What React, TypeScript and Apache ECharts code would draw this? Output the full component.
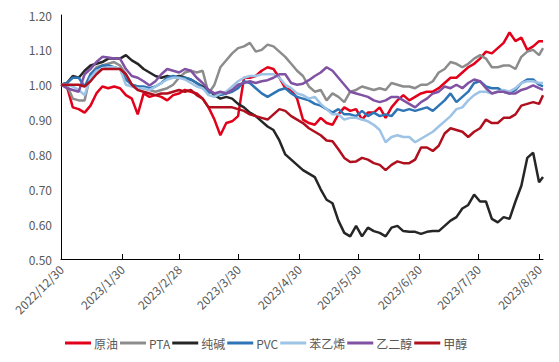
import React, { useEffect, useRef } from "react";
import * as echarts from "echarts";

const seriesNames = ["原油", "PTA", "纯碱", "PVC", "苯乙烯", "乙二醇", "甲醇"];
const seriesColors = ["#E2001A", "#8C8C8C", "#262626", "#2E75B6", "#9DC3E6", "#8052A3", "#B0101E"];

const tickLabels = [
  "2022/12/30", "2023/1/30", "2023/2/28", "2023/3/30", "2023/4/30",
  "2023/5/30", "2023/6/30", "2023/7/30", "2023/8/30",
];
const yTicks = [0.5, 0.6, 0.7, 0.8, 0.9, 1.0, 1.1, 1.2];

// Sample day offsets from 2022/12/30 (every 3 days, last one on 2023/9/1)
const sampleDays = [
  0, 3, 6, 9, 12, 15, 18, 21, 24, 27, 30, 33, 36, 39, 42, 45, 48, 51, 54, 57,
  60, 63, 66, 69, 72, 75, 78, 81, 84, 87, 90, 93, 96, 99, 102, 105, 108, 111, 114, 117,
  120, 123, 126, 129, 132, 135, 138, 141, 144, 147, 150, 153, 156, 159, 162, 165, 168, 171, 174, 177,
  180, 183, 186, 189, 192, 195, 198, 201, 204, 207, 210, 213, 216, 219, 222, 225, 228, 231, 234, 237,
  240, 243, 245,
];

const crude = [
  1.00, 0.995, 0.935, 0.93, 0.92, 0.94, 0.975, 0.995, 0.99, 0.995,
  0.99, 0.97, 0.96, 0.915, 0.975, 0.965, 0.97, 0.965, 0.955, 0.97,
  0.975, 0.985, 0.98, 0.975, 0.96, 0.935, 0.90, 0.855, 0.89, 0.895,
  0.91, 1.02, 1.02, 1.025, 1.04, 1.05, 1.045, 1.02, 0.99, 0.985,
  0.96, 0.90, 0.89, 0.885, 0.905, 0.89, 0.885, 0.915, 0.935, 0.925,
  0.93, 0.90, 0.92, 0.92, 0.935, 0.905, 0.935, 0.955, 0.97, 0.955,
  0.965, 0.975, 0.98, 0.98, 0.99, 1.005, 1.02, 1.02, 1.035, 1.05,
  1.06, 1.075, 1.095, 1.09, 1.105, 1.12, 1.15, 1.125, 1.135, 1.10,
  1.11, 1.125, 1.125,
];
const pta = [
  1.00, 1.00, 0.96, 0.955, 0.955, 1.03, 1.05, 1.055, 1.06, 1.065,
  1.055, 1.03, 1.00, 0.995, 0.99, 0.985, 0.98, 0.985, 0.99, 1.00,
  1.02, 1.035, 1.04, 1.035, 1.04, 0.975, 1.00, 1.05, 1.07, 1.09,
  1.105, 1.11, 1.12, 1.095, 1.10, 1.115, 1.11, 1.095, 1.08, 1.06,
  1.04, 1.025, 0.995, 0.98, 0.985, 0.955, 0.975, 0.965, 0.95, 0.98,
  0.985, 0.995, 0.99, 0.985, 0.99, 0.985, 1.005, 1.00, 0.995, 0.995,
  0.99, 1.00, 1.00, 1.01, 1.035, 1.045, 1.065, 1.06, 1.05, 1.06,
  1.075, 1.085, 1.075, 1.05, 1.05, 1.055, 1.055, 1.045, 1.08, 1.095,
  1.10, 1.085, 1.105,
];
const soda = [
  1.00, 1.005, 1.025, 1.02, 1.04, 1.055, 1.06, 1.065, 1.075, 1.075,
  1.075, 1.085, 1.07, 1.06, 1.045, 1.035, 1.025, 1.02, 1.025, 1.02,
  1.025, 1.02, 1.015, 1.005, 0.995, 0.985, 0.97, 0.96, 0.965, 0.96,
  0.945, 0.935, 0.92, 0.91, 0.895, 0.88, 0.87, 0.84, 0.80, 0.785,
  0.77, 0.755, 0.745, 0.735, 0.70, 0.67, 0.66, 0.61, 0.575, 0.565,
  0.595, 0.565, 0.59, 0.58, 0.575, 0.565, 0.59, 0.595, 0.58, 0.578,
  0.578, 0.572, 0.578, 0.58, 0.58, 0.595, 0.61, 0.62, 0.645, 0.655,
  0.685, 0.665, 0.665, 0.615, 0.605, 0.62, 0.615, 0.665, 0.71, 0.79,
  0.805, 0.72, 0.735,
];
const pvc = [
  1.00, 1.005, 1.02, 1.02, 0.995, 1.03, 1.045, 1.055, 1.055, 1.05,
  1.045, 1.015, 1.00, 0.995, 0.995, 0.99, 0.995, 1.005, 1.02, 1.025,
  1.02, 1.02, 1.015, 1.005, 0.99, 0.98, 0.975, 0.97, 0.975, 0.98,
  0.99, 1.01, 1.005, 0.99, 0.975, 0.965, 0.975, 0.985, 0.99, 0.975,
  0.965, 0.96, 0.955, 0.945, 0.94, 0.93, 0.92, 0.93, 0.915, 0.915,
  0.91, 0.925, 0.91, 0.92, 0.91, 0.915, 0.91, 0.93, 0.925, 0.93,
  0.925, 0.93, 0.935, 0.925, 0.94, 0.955, 0.975, 0.95, 0.965, 0.98,
  1.005, 1.01, 0.995, 0.99, 0.99, 0.98, 0.975, 0.985, 1.005, 1.015,
  1.015, 1.0, 0.995,
];
const styrene = [
  1.00, 1.00, 0.995, 0.985, 0.97, 1.02, 1.04, 1.045, 1.05, 1.05,
  1.045, 1.00, 0.995, 0.99, 0.99, 0.985, 0.995, 1.005, 1.015, 1.02,
  1.02, 1.015, 1.005, 0.995, 0.99, 0.97, 0.965, 0.975, 0.98, 0.995,
  1.01, 1.02, 1.025, 1.025, 1.03, 1.03, 1.03, 1.02, 1.00, 0.99,
  0.975, 0.97, 0.96, 0.965, 0.945, 0.93, 0.915, 0.915, 0.90, 0.905,
  0.905, 0.90, 0.895, 0.885, 0.87, 0.835, 0.85, 0.855, 0.85, 0.85,
  0.835, 0.845, 0.855, 0.865, 0.88, 0.895, 0.91, 0.93, 0.935, 0.955,
  0.97, 0.98, 0.98, 0.975, 0.98, 0.985, 0.98, 0.99, 1.005, 1.01,
  1.01, 1.005, 1.005,
];
const meg = [
  1.00, 0.99, 0.985, 0.98, 1.03, 1.045, 1.065, 1.08, 1.078, 1.075,
  1.075, 1.045, 1.025, 1.02, 1.01, 0.998, 1.01, 1.03, 1.045, 1.04,
  1.035, 1.045, 1.04, 1.02, 1.005, 0.985, 0.975, 0.98, 0.975, 0.985,
  1.00, 1.005, 1.01, 1.005, 1.01, 1.013, 1.02, 1.03, 1.03, 1.005,
  1.00, 1.003, 1.013, 1.025, 1.035, 1.05, 1.04, 1.02, 1.00, 0.98,
  0.975, 0.97, 0.965, 0.955, 0.95, 0.955, 0.965, 0.965, 0.955, 0.945,
  0.935, 0.95, 0.96, 0.975, 0.98, 0.995, 0.99, 1.00, 0.99, 1.005,
  1.015, 1.01, 0.99, 0.975, 0.98, 0.98, 0.975, 0.975, 0.985, 0.99,
  0.998, 0.99, 0.985,
];
const methanol = [
  1.00, 1.00, 1.00, 1.00, 0.995, 1.01, 1.03, 1.045, 1.045, 1.045,
  1.045, 1.03, 1.00, 0.985, 0.98, 0.975, 0.97, 0.975, 0.975, 0.98,
  0.985, 0.98, 0.985, 0.97, 0.96, 0.935, 0.935, 0.935, 0.935, 0.935,
  0.93, 0.925, 0.915, 0.91, 0.905, 0.90, 0.915, 0.93, 0.925, 0.91,
  0.90, 0.89, 0.875, 0.865, 0.855, 0.84, 0.838, 0.815, 0.79, 0.778,
  0.78, 0.79, 0.785, 0.775, 0.77, 0.755, 0.77, 0.78, 0.775, 0.775,
  0.785, 0.82, 0.82, 0.81, 0.825, 0.86, 0.875, 0.87, 0.865, 0.85,
  0.865, 0.875, 0.90, 0.89, 0.89, 0.905, 0.905, 0.915, 0.94, 0.945,
  0.95, 0.945, 0.97,
];

const seriesValues = [crude, pta, soda, pvc, styrene, meg, methanol];

const START = Date.UTC(2022, 11, 30);
const DAY = 86400000;
const TOTAL_DAYS = 245;
function fmt(dayOffset: number): string {
  const d = new Date(START + dayOffset * DAY);
  return `${d.getUTCFullYear()}/${d.getUTCMonth() + 1}/${d.getUTCDate()}`;
}

export default function App() {
  const ref = useRef<HTMLDivElement>(null);
  useEffect(() => {
    document.body.style.margin = "0";
    if (!ref.current) return;
    const chart = echarts.init(ref.current, null, { renderer: "svg" });
    const categories: string[] = [];
    for (let i = 0; i <= TOTAL_DAYS; i++) categories.push(fmt(i));
    const tickSet = new Set(tickLabels);
    const showTick = (_idx: number, val: string) => tickSet.has(val);
    const font = "'Microsoft YaHei', 'Noto Sans CJK SC', sans-serif";

    chart.setOption({
      animation: false,
      backgroundColor: "#ffffff",
      color: seriesColors,
      grid: { left: 61, right: 16, top: 15, bottom: 103, containLabel: false },
      legend: {
        left: 60,
        top: 332,
        icon: "rect",
        itemWidth: 26,
        itemHeight: 3,
        itemGap: 2,
        textStyle: { color: "#595959", fontSize: 12, fontFamily: font, padding: [0, 0, 0, -2] },
        data: seriesNames,
      },
      xAxis: {
        type: "category",
        data: categories,
        boundaryGap: false,
        axisLine: { show: true, lineStyle: { color: "#000000", width: 1 } },
        axisTick: {
          show: true,
          inside: true,
          length: 5,
          interval: showTick,
          lineStyle: { color: "#000000" },
        },
        axisLabel: {
          interval: showTick,
          rotate: 45,
          color: "#595959",
          fontSize: 12,
          fontFamily: font,
          margin: 8,
        },
        splitLine: { show: false },
      },
      yAxis: {
        type: "value",
        min: yTicks[0],
        max: yTicks[yTicks.length - 1],
        interval: 0.1,
        axisLine: { show: true, lineStyle: { color: "#000000", width: 1 } },
        axisTick: { show: false },
        splitLine: { show: false },
        axisLabel: {
          color: "#595959",
          fontSize: 12,
          fontFamily: font,
          margin: 9,
          formatter: (v: number) => v.toFixed(2),
        },
      },
      series: seriesNames.map((name, si) => ({
        name,
        type: "line",
        symbol: "none",
        showSymbol: false,
        connectNulls: true,
        lineStyle: { width: 2.5, color: seriesColors[si] },
        itemStyle: { color: seriesColors[si] },
        data: sampleDays.map((d, i) => [fmt(d), seriesValues[si][i]]),
      })),
    });
    return () => chart.dispose();
  }, []);
  return <div ref={ref} style={{ width: 559, height: 362 }} />;
}
